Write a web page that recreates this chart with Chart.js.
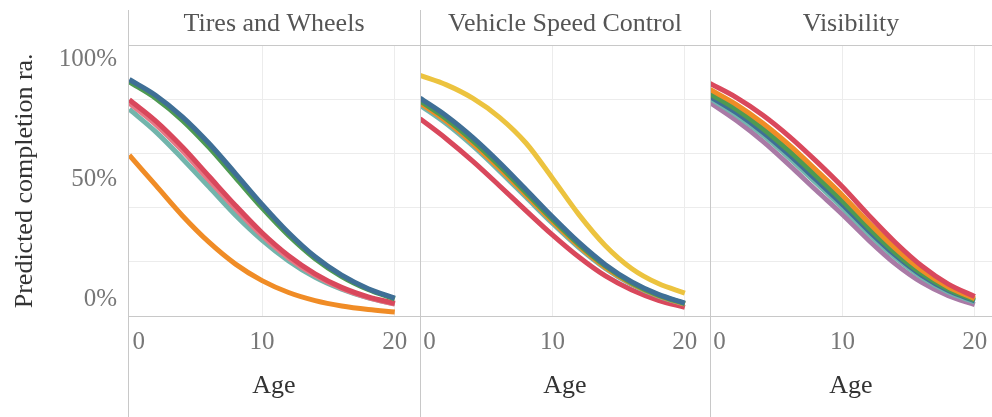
<!DOCTYPE html>
<html>
<head>
<meta charset="utf-8">
<script src="https://cdn.jsdelivr.net/npm/chart.js@4/dist/chart.umd.min.js"></script>
<style>
  body { margin: 0; background: #fff; }
  #wrap { position: relative; width: 992px; height: 417px; overflow: hidden; }
  #wrap canvas { position: absolute; top: 0; }
  .rule { position: absolute; top: 10px; bottom: 0; width: 1px; background: #c8c8c8; }
</style>
</head>
<body>
<div id="wrap">
  <canvas id="c0" width="420" height="417" style="left:0"></canvas>
  <canvas id="c1" width="290" height="417" style="left:420px"></canvas>
  <canvas id="c2" width="282" height="417" style="left:710px"></canvas>
  <div class="rule" style="left:128px"></div>
  <div class="rule" style="left:420px"></div>
  <div class="rule" style="left:710px"></div>
</div>
<script>
const panels = ["Tires and Wheels", "Vehicle Speed Control", "Visibility"]
const ages = [0, 2, 4, 6, 8, 10, 12, 14, 16, 18, 20]
const xTicks = [0, 10, 20]
const yTicks = [0, 0.5, 1]
const yGrid = [0, 0.2, 0.4, 0.6, 0.8, 1]

// Tires and Wheels
const tiresBlue   = [0.875, 0.816, 0.737, 0.639, 0.527, 0.413, 0.308, 0.219, 0.151, 0.101, 0.066]
const tiresGreen  = [0.866, 0.805, 0.724, 0.624, 0.512, 0.400, 0.298, 0.212, 0.146, 0.098, 0.063]
const tiresRed    = [0.800, 0.721, 0.625, 0.517, 0.409, 0.308, 0.223, 0.156, 0.106, 0.071, 0.047]
const tiresPink   = [0.788, 0.708, 0.611, 0.503, 0.397, 0.298, 0.215, 0.150, 0.102, 0.068, 0.044]
const tiresTeal   = [0.765, 0.681, 0.582, 0.478, 0.373, 0.281, 0.204, 0.143, 0.099, 0.067, 0.045]
const tiresOrange = [0.595, 0.483, 0.371, 0.273, 0.192, 0.131, 0.087, 0.057, 0.037, 0.024, 0.015]

// Vehicle Speed Control
const speedYellow = [0.890, 0.855, 0.805, 0.735, 0.640, 0.510, 0.375, 0.260, 0.175, 0.120, 0.085]
const speedBlue   = [0.806, 0.740, 0.660, 0.568, 0.468, 0.367, 0.272, 0.190, 0.126, 0.080, 0.048]
const speedGreen  = [0.796, 0.729, 0.648, 0.556, 0.457, 0.358, 0.265, 0.185, 0.122, 0.077, 0.046]
const speedOrange = [0.788, 0.720, 0.638, 0.546, 0.448, 0.350, 0.259, 0.180, 0.119, 0.075, 0.045]
const speedTeal   = [0.780, 0.711, 0.629, 0.537, 0.440, 0.343, 0.253, 0.176, 0.116, 0.073, 0.044]
const speedRed    = [0.730, 0.655, 0.572, 0.482, 0.390, 0.300, 0.218, 0.148, 0.096, 0.058, 0.032]

// Visibility
const visRed    = [0.860, 0.808, 0.743, 0.664, 0.574, 0.478, 0.372, 0.272, 0.185, 0.118, 0.072]
const visOrange = [0.838, 0.782, 0.713, 0.632, 0.541, 0.447, 0.345, 0.250, 0.169, 0.107, 0.064]
const visGreen  = [0.822, 0.764, 0.693, 0.610, 0.519, 0.426, 0.326, 0.234, 0.157, 0.099, 0.059]
const visBlue   = [0.812, 0.752, 0.680, 0.596, 0.505, 0.413, 0.315, 0.225, 0.150, 0.094, 0.056]
const visTeal   = [0.805, 0.743, 0.669, 0.584, 0.493, 0.401, 0.304, 0.216, 0.143, 0.089, 0.052]
const visPurple = [0.790, 0.723, 0.646, 0.558, 0.466, 0.376, 0.280, 0.193, 0.124, 0.075, 0.042]

const colors = {
  blue: "#3f6f96", green: "#4e9a52", red: "#d9485c", pink: "#e77886", teal: "#72b5ac",
  orange: "#f08c26", yellow: "#ecc33f", purple: "#a97aa6"
}

const panelSeries = [
  [["blue", tiresBlue], ["green", tiresGreen], ["red", tiresRed], ["pink", tiresPink], ["teal", tiresTeal], ["orange", tiresOrange]],
  [["yellow", speedYellow], ["blue", speedBlue], ["green", speedGreen], ["orange", speedOrange], ["teal", speedTeal], ["red", speedRed]],
  [["red", visRed], ["orange", visOrange], ["green", visGreen], ["blue", visBlue], ["teal", visTeal], ["purple", visPurple]],
]
const xRanges = [[-0.1, 21.9], [0, 21.9], [0, 21.3]]

const serif = "'Liberation Serif', 'Times New Roman', serif"

function makeChart(i) {
  const first = i === 0
  const scales = {
    x: {
      type: "linear",
      min: xRanges[i][0],
      max: xRanges[i][1],
      afterBuildTicks: s => { s.ticks = xTicks.map(v => ({ value: v })) },
      ticks: {
        font: { family: serif, size: 25 }, color: "#777", padding: 11, maxRotation: 0,
        // Tableau nudges the first label off the pane edge
        callback: v => (v === 0 ? "   0" : String(v)),
      },
      grid: { color: c => (c.tick && c.tick.value === 0 ? "rgba(0,0,0,0)" : "#ececec"), drawTicks: false },
      border: { color: "#c8c8c8" },
      title: { display: true, text: "Age", font: { family: serif, size: 26 }, color: "#333", padding: { top: 0, bottom: 15 } },
      afterFit: s => { s.height = 101; s.paddingLeft = 0; s.paddingRight = 0 },
    },
    y: {
      position: "left",
      min: 0,
      max: 1,
      afterBuildTicks: s => { s.ticks = yGrid.map(v => ({ value: v })) },
      ticks: { display: false },
      grid: { color: c => (c.tick && (c.tick.value === 1 || c.tick.value === 0) ? "#c8c8c8" : "#ececec"), drawTicks: false },
      border: { display: false },
      afterFit: s => { s.width = 0 },
    },
  }
  if (first) {
    // label axis: end labels sit inside the pane like Tableau draws them
    scales.yLab = {
      position: "left",
      min: -0.071,
      max: 1.058,
      afterBuildTicks: s => { s.ticks = yTicks.map(v => ({ value: v })) },
      ticks: { font: { family: serif, size: 25 }, color: "#777", padding: 11, callback: v => Math.round(v * 100) + "%" },
      grid: { display: false, drawTicks: false },
      border: { display: false },
      title: { display: true, text: "Predicted completion ra.", font: { family: serif, size: 26 }, color: "#333", padding: { top: 10, bottom: 0 } },
      afterFit: s => { s.width = 128 },
    }
  }

  const datasets = panelSeries[i].map(([name, values]) => ({
    label: name,
    data: values.map((v, k) => ({ x: ages[k], y: v })),
    borderColor: colors[name],
    backgroundColor: colors[name],
    borderWidth: 5,
    pointRadius: 0,
    cubicInterpolationMode: "monotone",
    yAxisID: "y",
    xAxisID: "x",
  }))

  return new Chart(document.getElementById("c" + i), {
    type: "line",
    data: { datasets: datasets },
    options: {
      responsive: false,
      animation: false,
      layout: { padding: 0 },
      scales: scales,
      plugins: {
        legend: { display: false },
        tooltip: { enabled: false },
        title: {
          display: true,
          text: panels[i],
          fullSize: false,
          font: { family: serif, size: 26, weight: "normal" },
          color: "#555",
          padding: { top: 8.4, bottom: 6.1 },
        },
      },
    },
  })
}

panels.forEach((p, i) => makeChart(i))
</script>
</body>
</html>
